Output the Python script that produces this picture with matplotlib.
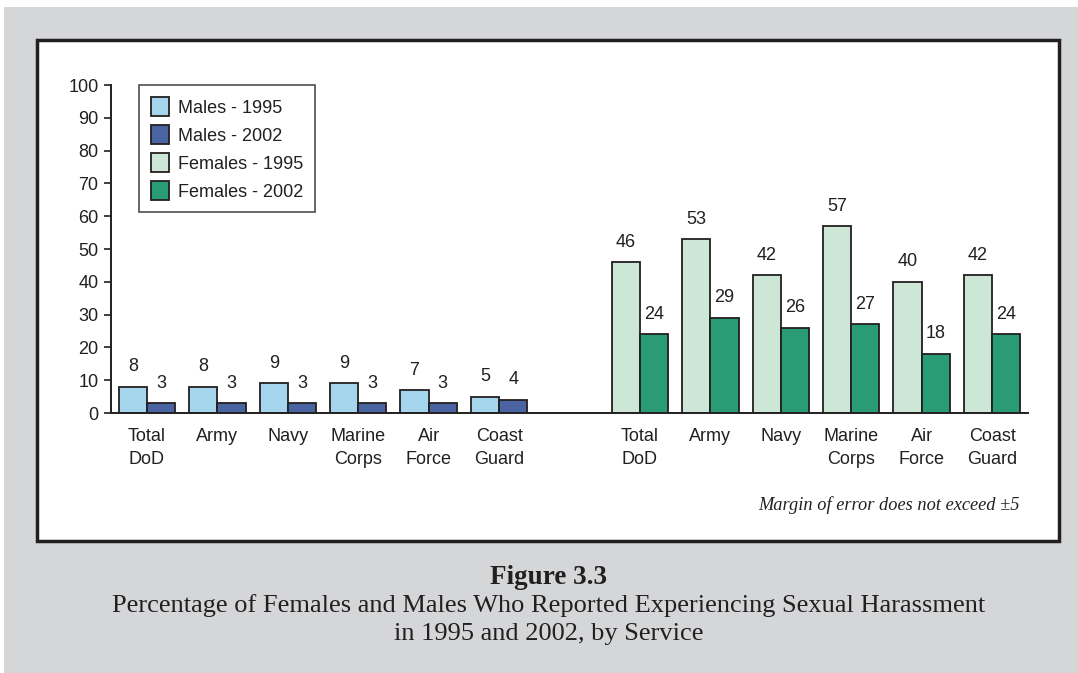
import numpy as np
import matplotlib.pyplot as plt
from matplotlib.patches import Rectangle, Patch

# data
services = ['Total\nDoD', 'Army', 'Navy', 'Marine\nCorps', 'Air\nForce', 'Coast\nGuard']
males_1995 = [8, 8, 9, 9, 7, 5]
males_2002 = [3, 3, 3, 3, 3, 4]
females_1995 = [46, 53, 42, 57, 40, 42]
females_2002 = [24, 29, 26, 27, 18, 24]
yticks = list(range(0, 101, 10))

c_m95, c_m02 = '#a6d6ee', '#4a64a2'
c_f95, c_f02 = '#cde7d7', '#299b75'
edge = '#231f20'
gray = '#d5d6d8'

plt.rcParams['font.family'] = ['Liberation Sans', 'DejaVu Sans']

W, H = 1078, 673
fig = plt.figure(figsize=(W / 100, H / 100), dpi=100, facecolor='white')

# gray page + white framed panel
fig.patches.append(Rectangle((4 / W, 0.5 / H), 1, 1 - 7.5 / H, transform=fig.transFigure,
                             facecolor=gray, edgecolor='none', zorder=-10))
fig.patches.append(Rectangle((37 / W, 1 - 541 / H), (1059 - 37) / W, (541 - 40) / H,
                             transform=fig.transFigure, facecolor='white',
                             edgecolor=edge, linewidth=2.5, zorder=-9))

ax = fig.add_axes([111 / W, 1 - 413 / H, (1028 - 111) / W, (413 - 85) / H])
ax.set_facecolor('none')

w = 0.4
xm = np.arange(6)
xf = np.arange(6) + 7

bars = [
    (xm - w / 2, males_1995, c_m95, 'Males - 1995'),
    (xm + w / 2, males_2002, c_m02, 'Males - 2002'),
    (xf - w / 2, females_1995, c_f95, 'Females - 1995'),
    (xf + w / 2, females_2002, c_f02, 'Females - 2002'),
]
for x, vals, col, lab in bars:
    ax.bar(x, vals, width=w, color=col, edgecolor=edge, linewidth=1.3, label=lab)
    for xi, v in zip(x, vals):
        ax.text(xi, v + 3.5, str(v), ha='center', va='bottom', fontsize=13, color='#231f20')

ax.set_xlim(-0.51, 12.51)
ax.set_ylim(0, 100)
ax.set_yticks(yticks)
ax.tick_params(axis='y', direction='out', length=5, width=1.2, labelsize=13,
               colors=edge, pad=4)
ax.set_xticks(list(xm) + list(xf))
ax.set_xticklabels(services + services, fontsize=13, color='#231f20', linespacing=1.45)
ax.tick_params(axis='x', length=0, pad=11)
for s in ['top', 'right']:
    ax.spines[s].set_visible(False)
for s in ['left', 'bottom']:
    ax.spines[s].set_color(edge)
    ax.spines[s].set_linewidth(1.4)

handles = [Patch(facecolor=c, edgecolor=edge, linewidth=1.3, label=l) for _, _, c, l in bars]
leg = ax.legend(handles=handles, loc='upper left', bbox_to_anchor=(28 / 917, 1.0),
                fontsize=13, frameon=True, fancybox=False, edgecolor=edge,
                handlelength=1.0, handleheight=1.3, handletextpad=0.5,
                labelspacing=0.45, borderpad=0.65, borderaxespad=0)
leg.get_frame().set_linewidth(1.2)
for t in leg.get_texts():
    t.set_color('#231f20')

fig.text(1020 / W, 1 - 505 / H, 'Margin of error does not exceed \u00b15', ha='right',
         va='center', fontsize=13.2, style='italic', family='Liberation Serif', color='#231f20')

fig.text(549 / W, 1 - 577 / H, 'Figure 3.3', ha='center', va='center', fontsize=19.5,
         fontweight='bold', family='Liberation Serif', color='#231f20')
fig.text(549 / W, 1 - 606 / H,
         'Percentage of Females and Males Who Reported Experiencing Sexual Harassment',
         ha='center', va='center', fontsize=19, family='Liberation Serif', color='#231f20')
fig.text(549 / W, 1 - 634 / H, 'in 1995 and 2002, by Service', ha='center', va='center',
         fontsize=19, family='Liberation Serif', color='#231f20')

fig.savefig('out.png', dpi=100, facecolor=fig.get_facecolor())
